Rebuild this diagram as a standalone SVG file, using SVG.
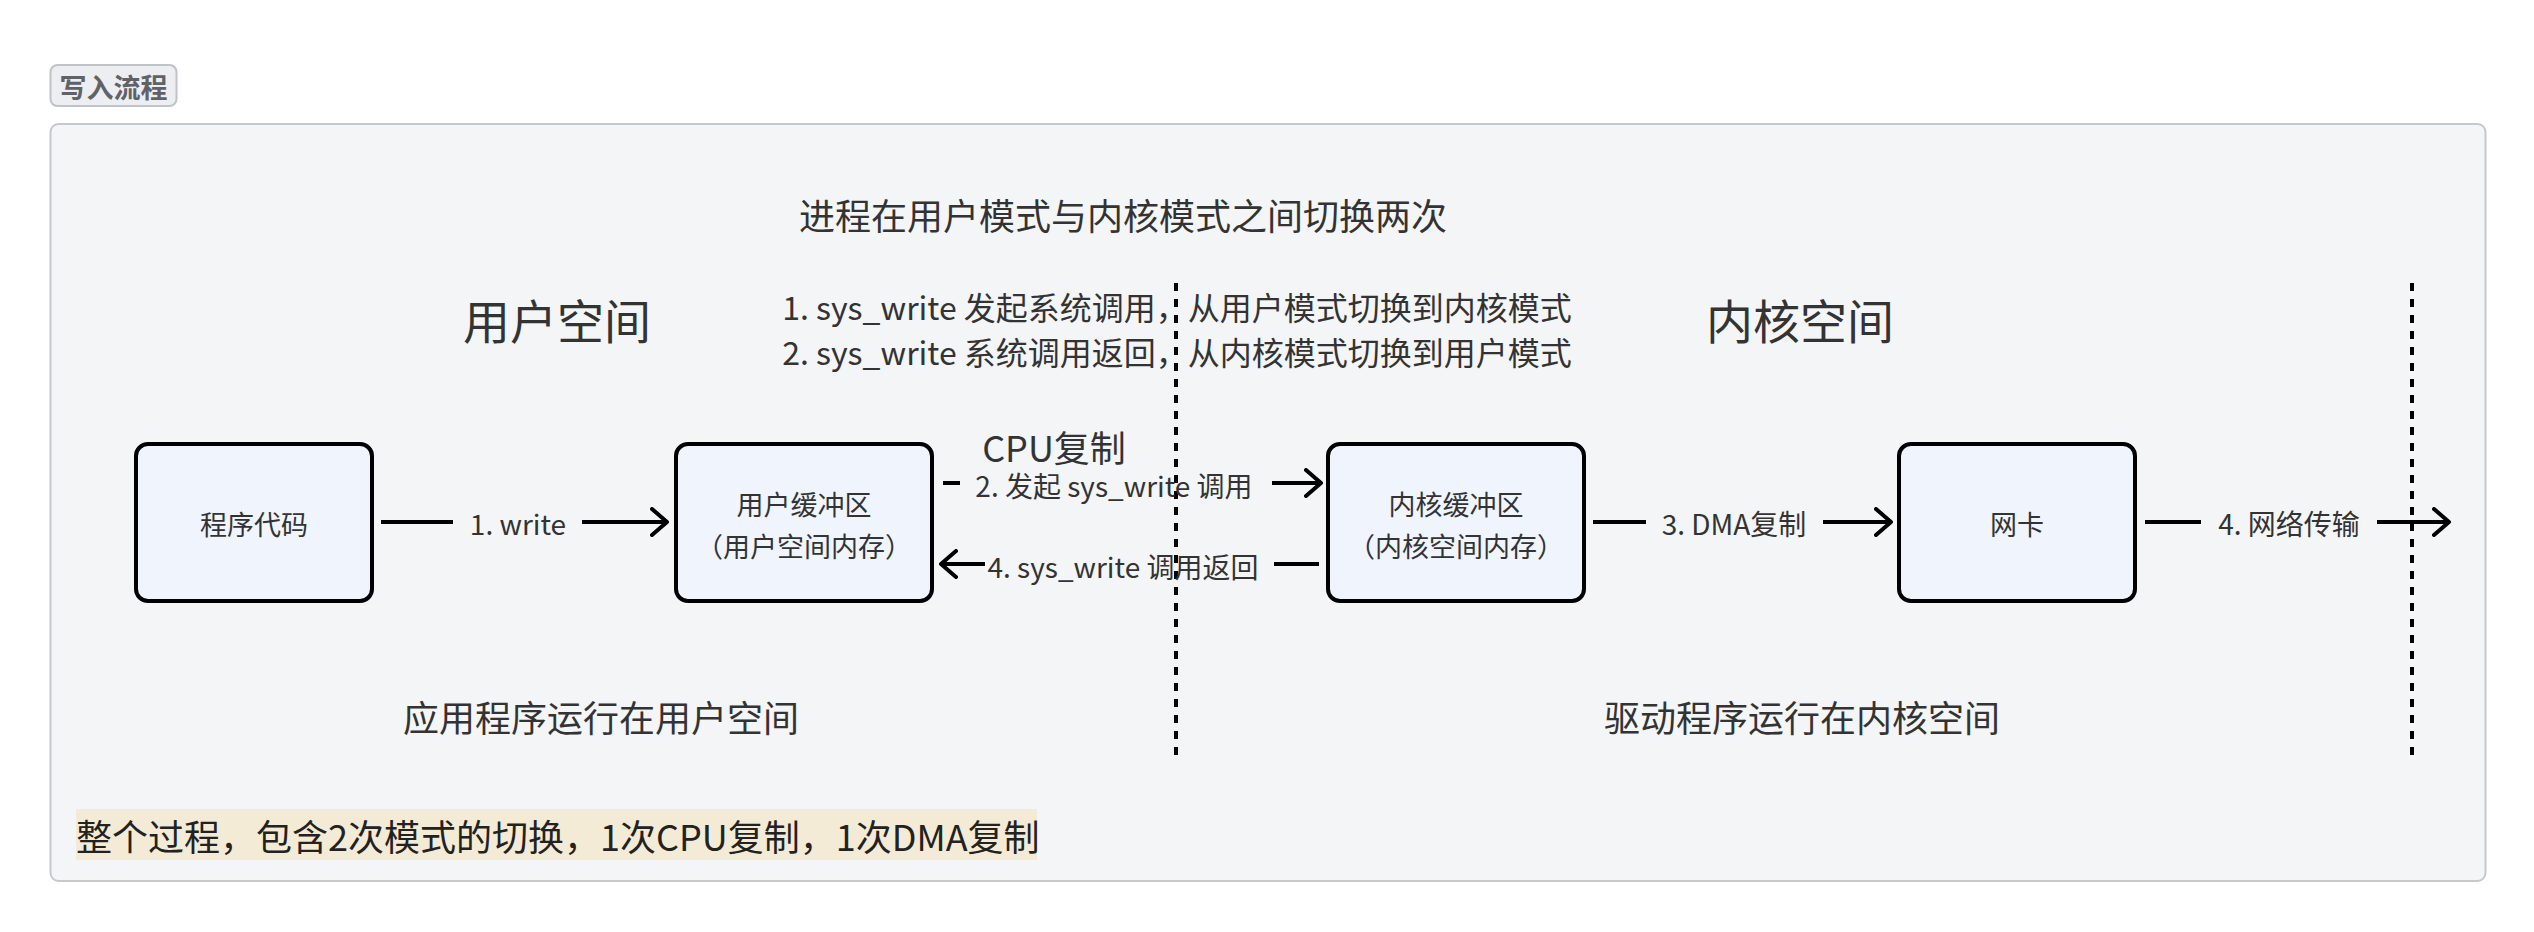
<svg xmlns="http://www.w3.org/2000/svg" width="2534" height="932" viewBox="0 0 2534 932">
<style>
text{font-family:"Noto Sans CJK SC","Noto Sans",sans-serif;fill:#333333;dominant-baseline:central}
.node rect{fill:#eff4fd;stroke:#000;stroke-width:4}
.nt{font-size:27px;text-anchor:middle}
.lbl{font-size:28px;text-anchor:middle}
.ln{stroke:#000;stroke-width:4;fill:none}
.arr{marker-end:url(#ah)}
.dash{stroke:#000;stroke-width:4;stroke-dasharray:8 8}
.big{font-size:36px;text-anchor:middle}
.head{font-size:47px;text-anchor:middle}
.desc{font-size:32px;text-anchor:middle}
</style>
<defs>
<marker id="ah" markerUnits="userSpaceOnUse" viewBox="0 0 20 30" refX="17" refY="15" markerWidth="20" markerHeight="30" orient="auto">
<path d="M2,2 L17,15 L2,28" fill="none" stroke="#000" stroke-width="4" stroke-linecap="round" stroke-linejoin="round"/>
</marker>
</defs>
<rect width="2534" height="932" fill="#ffffff"/>
<g id="tag">
<rect x="50.5" y="65" width="126" height="41" rx="7" fill="#eceef1" stroke="#c0c3c8" stroke-width="2"/>
<text x="113.5" y="86" style="font-size:27px;font-weight:bold;fill:#5f6368;text-anchor:middle">写入流程</text>
</g>
<g id="container">
<rect x="50.5" y="124" width="2435" height="757" rx="8" fill="#f4f5f7" stroke="#c5c8cd" stroke-width="2"/>
</g>
<g id="texts">
<text class="big" x="1123" y="214">进程在用户模式与内核模式之间切换两次</text>
<text class="head" x="557" y="318">用户空间</text>
<text class="head" x="1800" y="318">内核空间</text>
<text class="desc" x="1177" y="306">1. sys_write 发起系统调用，从用户模式切换到内核模式</text>
<text class="desc" x="1177" y="351">2. sys_write 系统调用返回，从内核模式切换到用户模式</text>
<text class="big" x="1054" y="446">CPU复制</text>
<text class="big" x="601" y="716">应用程序运行在用户空间</text>
<text class="big" x="1802" y="716">驱动程序运行在内核空间</text>
<rect x="76" y="809" width="961" height="51" fill="#f4ebd6"/>
<text x="76" y="835" style="font-size:36px;fill:#222222">整个过程，包含2次模式的切换，1次CPU复制，1次DMA复制</text>
</g>
<g id="dividers">
<line class="dash" x1="1176" y1="283" x2="1176" y2="756"/>
<line class="dash" x1="2412" y1="283" x2="2412" y2="756"/>
</g>
<g id="node-code" class="node">
<rect x="136" y="444" width="236" height="157" rx="12"/>
<text class="nt" x="254" y="523">程序代码</text>
</g>
<g id="node-userbuf" class="node">
<rect x="676" y="444" width="256" height="157" rx="12"/>
<text class="nt" x="804" y="503">用户缓冲区</text>
<text class="nt" x="804" y="545">（用户空间内存）</text>
</g>
<g id="node-kernelbuf" class="node">
<rect x="1328" y="444" width="256" height="157" rx="12"/>
<text class="nt" x="1456" y="503">内核缓冲区</text>
<text class="nt" x="1456" y="545">（内核空间内存）</text>
</g>
<g id="node-nic" class="node">
<rect x="1899" y="444" width="236" height="157" rx="12"/>
<text class="nt" x="2017" y="523">网卡</text>
</g>
<g id="connectors">
<line class="ln" x1="381" y1="522" x2="453" y2="522"/>
<line class="ln arr" x1="582" y1="522" x2="667" y2="522"/>
<text class="lbl" x="518" y="523">1. write</text>

<line class="ln" x1="943" y1="483" x2="960" y2="483"/>
<line class="ln arr" x1="1272" y1="483" x2="1321" y2="483"/>
<text class="lbl" x="1114" y="485">2. 发起 sys_write 调用</text>

<line class="ln" x1="1319" y1="564" x2="1274" y2="564"/>
<line class="ln arr" x1="985" y1="564" x2="941" y2="564"/>
<text class="lbl" x="1123" y="566">4. sys_write 调用返回</text>

<line class="ln" x1="1593" y1="522" x2="1646" y2="522"/>
<line class="ln arr" x1="1823" y1="522" x2="1891" y2="522"/>
<text class="lbl" x="1734" y="523">3. DMA复制</text>

<line class="ln" x1="2145" y1="522" x2="2201" y2="522"/>
<line class="ln arr" x1="2377" y1="522" x2="2449" y2="522"/>
<text class="lbl" x="2289" y="523">4. 网络传输</text>
</g>
</svg>
